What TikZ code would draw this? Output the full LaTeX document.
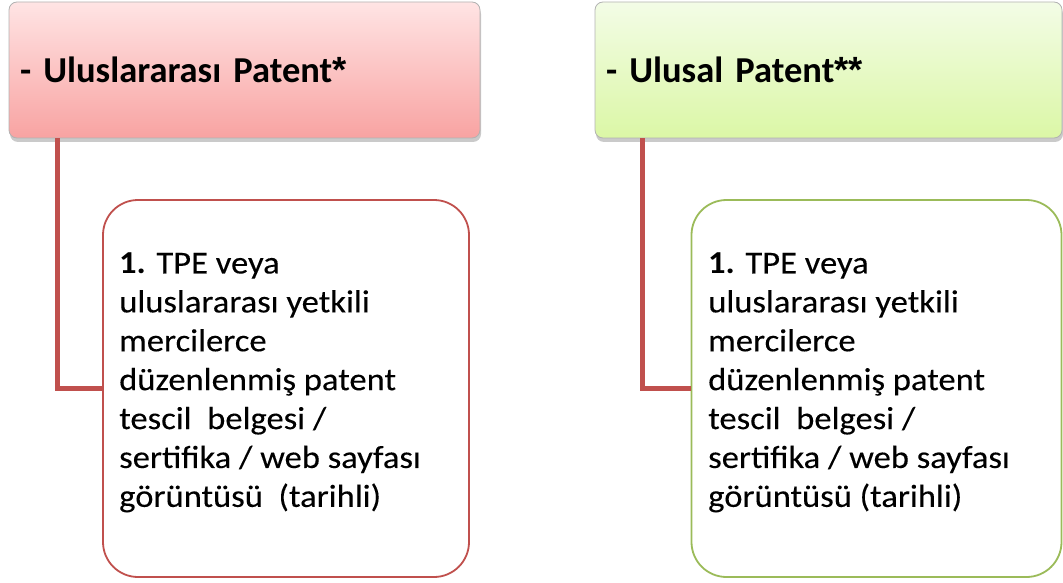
\documentclass[tikz,border=0pt]{standalone}
\usepackage{fontspec}
\setmainfont{Carlito}
\newfontfamily\astfont{Liberation Sans}
\newfontfamily\bodyfont{Carlito}[FakeBold=0.15]
\usetikzlibrary{shadows}
\definecolor{conn}{HTML}{C0504D}
\definecolor{redtop}{HTML}{FFE4E4}
\definecolor{redbot}{HTML}{F8A3A2}
\definecolor{grntop}{HTML}{F3FCE6}
\definecolor{grnbot}{HTML}{DBF7A6}
\definecolor{grnline}{HTML}{9BBB59}
\newcommand{\myast}{{\astfont\bfseries *}}
\tikzset{
  header/.style={rectangle, rounded corners=8pt, draw=black!30, line width=0.8pt,
    minimum height=136pt, inner xsep=11pt, inner ysep=0pt, anchor=center,
    font=\fontsize{36.5}{44}\selectfont\bfseries, text=black, align=left,
    drop shadow={shadow xshift=1pt, shadow yshift=-4pt, opacity=0.35, fill=black!60}},
  child/.style={rectangle, rounded corners=35pt, line width=1.8pt, fill=white,
    minimum height=377pt, inner sep=0pt},
  bodytext/.style={anchor=north west, inner sep=0pt, align=left, text=black, xscale=1.08,
    font=\bodyfont\fontsize{32}{38.9}\selectfont},
  link/.style={draw=conn, line width=5pt}
}
\begin{document}
\begin{tikzpicture}[x=1pt,y=-1pt]
\useasboundingbox (0,0) rectangle (1063,583);
% header boxes
\node[header, top color=redtop, bottom color=redbot, minimum width=471pt, text width=449pt] (h1) at (244.5,70) {- Uluslararası Patent\myast};
\node[header, top color=grntop, bottom color=grnbot, minimum width=467pt, text width=445pt] (h2) at (828.5,70) {- Ulusal Patent\myast\myast};
% child boxes
\node[child, draw=conn, minimum width=366pt] (k1) at (286,388.5) {};
\node[child, draw=grnline, minimum width=370pt] (k2) at (876.5,388.5) {};
% connectors
\draw[link] ([xshift=49pt]h1.south west) |- (k1.west);
\draw[link] ([xshift=48pt]h2.south west) |- (k2.west);
% texts
\node[bodytext] (t1) at (119,252.5) {{\fontspec{Carlito}\bfseries 1.} TPE veya\\uluslararası yetkili\\mercilerce\\düzenlenmiş patent\\tescil\ \ belgesi /\\sertifika / web sayfası\\görüntüsü\ \ (tarihli)};
\node[bodytext] (t2) at (708,252.5) {{\fontspec{Carlito}\bfseries 1.} TPE veya\\uluslararası yetkili\\mercilerce\\düzenlenmiş patent\\tescil\ \ belgesi /\\sertifika / web sayfası\\görüntüsü (tarihli)};
\end{tikzpicture}
\end{document}
